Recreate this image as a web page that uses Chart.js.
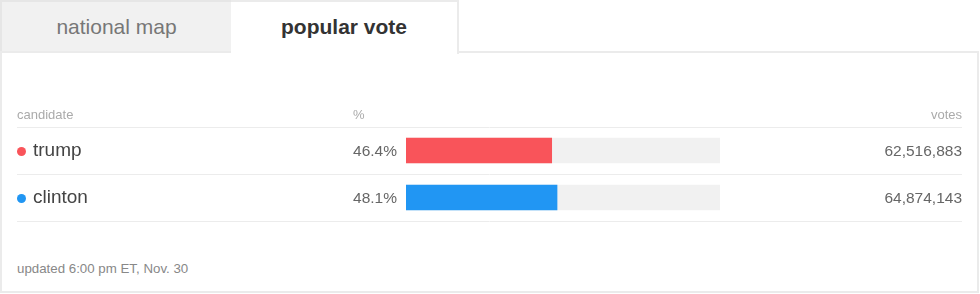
<!DOCTYPE html>
<html>
<head>
<meta charset="utf-8">
<script src="https://cdn.jsdelivr.net/npm/chart.js@4"></script>
<style>
  html, body { margin:0; padding:0; background:#fff; }
  body { width:980px; height:294px; overflow:hidden; position:relative; font-family:"Liberation Sans", Arial, sans-serif; }
  .tab { position:absolute; top:0; height:52px; box-sizing:border-box; text-align:center; line-height:52px; font-size:21px; }
  #tab1 { left:0; width:231px; background:#f1f1f1; border-top:2px solid #e6e6e6; border-left:2px solid #e6e6e6; color:#777; line-height:50px; }
  #tab2 { left:231px; width:228px; height:54px; background:#fff; border-top:2px solid #ebebeb; border-right:2px solid #ebebeb; color:#333; font-weight:bold; line-height:50px; z-index:3; }
  #panel { position:absolute; left:0; top:51px; width:979px; height:242px; box-sizing:border-box; border:2px solid #ebebeb; z-index:1; }
  #chartWrap { position:absolute; left:0; top:100px; width:980px; height:130px; z-index:2; }
  .t { position:absolute; white-space:nowrap; z-index:4; line-height:20px; height:20px; }
  .hdr { font-size:13px; color:#aaa; }
  .name { font-size:19px; color:#444; left:33px; }
  .pct { font-size:15.5px; color:#666; text-align:right; }
  .votes { font-size:15.5px; color:#666; text-align:right; }
  .dot { position:absolute; width:9px; height:9px; border-radius:50%; left:17px; z-index:4; }
  #footer { position:absolute; left:17px; top:261px; font-size:13.3px; color:#888; z-index:4; }
</style>
</head>
<body>
<div class="tab" id="tab1">national map</div>
<div class="tab" id="tab2">popular vote</div>
<div id="panel"></div>
<div id="chartWrap"><canvas id="c" width="980" height="130"></canvas></div>
<div class="t hdr" style="left:17px;top:105px;">candidate</div>
<div class="t hdr" style="left:353px;top:105px;">%</div>
<div class="t hdr" style="right:18px;top:105px;">votes</div>
<div id="rows"></div>
<div id="footer">updated 6:00 pm ET, Nov. 30</div>
<script>
const candidates = ["trump", "clinton"];
const percents = [46.4, 48.1];
const votes = [62516883, 64874143];
const colors = ["#f9545a", "#2196f3"];
const trackMax = [100, 100];

const rowsEl = document.getElementById('rows');
const rowEls = candidates.map((c, i) => {
  const dot = document.createElement('div'); dot.className = 'dot'; dot.style.background = colors[i];
  const name = document.createElement('div'); name.className = 't name'; name.textContent = c;
  const pct = document.createElement('div'); pct.className = 't pct'; pct.style.right = (980 - 397) + 'px';
  pct.textContent = percents[i].toFixed(1) + '%';
  const v = document.createElement('div'); v.className = 't votes'; v.style.right = (980 - 962) + 'px';
  v.textContent = votes[i].toLocaleString('en-US');
  [dot, name, pct, v].forEach(e => rowsEl.appendChild(e));
  return {dot, name, pct, v};
});

const canvasTop = 100;
const rowPlugin = {
  id: 'rowPlugin',
  beforeDatasetsDraw(chart) {
    const y = chart.scales.y;
    const ctx = chart.ctx;
    const n = chart.data.labels.length;
    const band = (y.bottom - y.top) / n;
    ctx.save();
    ctx.strokeStyle = '#ececec';
    ctx.lineWidth = 1;
    for (let k = 0; k <= n; k++) {
      const yy = Math.round(y.top + k * band) + 0.5;
      ctx.beginPath(); ctx.moveTo(17, yy); ctx.lineTo(962, yy); ctx.stroke();
    }
    ctx.restore();
  },
  afterDraw(chart) {
    const y = chart.scales.y;
    rowEls.forEach((r, i) => {
      const cy = canvasTop + y.getPixelForValue(i);
      r.dot.style.top = (cy - 4.5 + 0.5) + 'px';
      r.name.style.top = (cy - 11) + 'px';
      r.pct.style.top = (cy - 10) + 'px';
      r.v.style.top = (cy - 10) + 'px';
    });
  }
};

new Chart(document.getElementById('c'), {
  type: 'bar',
  data: {
    labels: candidates,
    datasets: [
      { data: percents, backgroundColor: colors, barThickness: 25, grouped: false, order: 1, borderWidth: 0 },
      { data: trackMax, backgroundColor: '#f1f1f1', barThickness: 25, grouped: false, order: 2, borderWidth: 0 }
    ]
  },
  options: {
    indexAxis: 'y',
    responsive: false,
    devicePixelRatio: 1,
    animation: false,
    layout: { padding: { left: 406, right: 260, top: 27, bottom: 9 } },
    plugins: { legend: { display: false }, tooltip: { enabled: false } },
    scales: {
      x: { display: false, min: 0, max: 100 },
      y: { display: false, offset: true }
    }
  },
  plugins: [rowPlugin]
});
</script>
</body>
</html>
